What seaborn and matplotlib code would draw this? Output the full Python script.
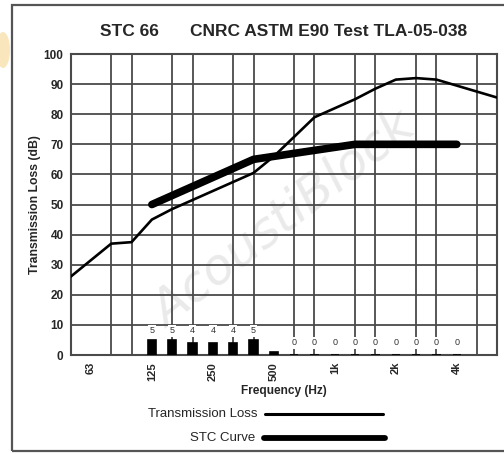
import numpy as np
import pandas as pd
import matplotlib
matplotlib.use("Agg")
import matplotlib.pyplot as plt
import seaborn as sns
from matplotlib.patches import Rectangle, Ellipse

# ---- data ----
bands = ["50", "63", "80", "100", "125", "160", "200", "250", "315", "400", "500",
         "630", "800", "1000", "1250", "1600", "2000", "2500", "3150", "4000", "5000", "6300"]
tl_values = [26, 31.5, 37, 37.5, 45, 48.5, 51.5, 54.5, 57.5, 60.5, 66,
             72.5, 79, 82, 85, 88.5, 91.5, 92, 91.5, 89.5, 87.5, 85.5]
stc_bands = ["125", "160", "200", "250", "315", "400", "500", "630", "800", "1000",
             "1250", "1600", "2000", "2500", "3150", "4000"]
stc_values = [50, 53, 56, 59, 62, 65, 66, 67, 68, 69, 70, 70, 70, 70, 70, 70]
deficiency = [5, 5, 4, 4, 4, 5, 1, 0, 0, 0, 0, 0, 0, 0, 0, 0]
deficiency_labels = ["5", "5", "4", "4", "4", "5", "", "0", "0", "0", "0", "0", "0", "0", "0", "0"]
tick_labels = ["63", "125", "250", "500", "1k", "2k", "4k"]
tick_bands = ["63", "125", "250", "500", "1000", "2000", "4000"]
yticks = [0, 10, 20, 30, 40, 50, 60, 70, 80, 90, 100]

pos = {b: i for i, b in enumerate(bands)}
tl_df = pd.DataFrame({"x": [pos[b] for b in bands], "y": tl_values})
stc_df = pd.DataFrame({"x": [pos[b] for b in stc_bands], "y": stc_values,
                       "d": deficiency, "lab": deficiency_labels})

sns.set_style("white")
plt.rcParams["font.family"] = ["Liberation Sans", "DejaVu Sans"]

fig = plt.figure(figsize=(5.04, 4.54), dpi=100)
ax = fig.add_axes([0.140, 0.218, 0.847, 0.663])

# grid
ax.set_xlim(0, len(bands) - 1)
ax.set_ylim(0, 100)
ax.set_xticks(range(len(bands)), minor=True)
ax.set_yticks(yticks)
ax.grid(True, which="minor", axis="x", color="#4a4a4a", lw=1.3, zorder=0)
ax.grid(True, which="major", axis="y", color="#4a4a4a", lw=1.3, zorder=0)
ax.set_axisbelow(True)
for s in ax.spines.values():
    s.set_color("#4a4a4a")
    s.set_linewidth(1.5)

# watermark
ax.text(10.5, 45, "AcoustiBlock", fontsize=36, color="#d0d0d0", alpha=0.45,
        rotation=38, ha="center", va="center", style="italic", zorder=0.3,
        family=["DejaVu Sans"])

# deficiency bars
ax.bar(stc_df["x"], stc_df["d"], width=0.42, color="black", edgecolor="black",
       linewidth=1.2, zorder=3)
for x, d, lab in zip(stc_df["x"], stc_df["d"], stc_df["lab"]):
    if lab:
        ypos = 8 if d > 0 else 4
        ax.text(x, ypos, lab, ha="center", va="center", fontsize=6.5, color="#333333",
                zorder=4, bbox=dict(boxstyle="square,pad=0.15", fc="white", ec="none"))

# curves
sns.lineplot(data=tl_df, x="x", y="y", ax=ax, color="black", lw=1.9, zorder=5)
sns.lineplot(data=stc_df, x="x", y="y", ax=ax, color="black", lw=5.5, zorder=6,
             solid_capstyle="round")

ax.set_xticks([pos[b] for b in tick_bands])
ax.set_xticklabels(tick_labels, rotation=90, fontsize=8, fontweight="bold")
ax.set_yticklabels([str(v) for v in yticks], fontsize=8.5, fontweight="bold")
ax.tick_params(axis="both", length=0)
ax.tick_params(axis="y", pad=5)
ax.tick_params(axis="x", pad=5)
ax.set_xlabel("Frequency (Hz)", fontsize=8.6, fontweight="bold", labelpad=3)
ax.set_ylabel("Transmission Loss (dB)", fontsize=8.8, fontweight="bold", labelpad=2)

# title
fig.text(129 / 504, 1 - 31 / 454, "STC 66", ha="center", va="center",
         fontsize=12.5, fontweight="bold")
fig.text(329 / 504, 1 - 31 / 454, "CNRC ASTM E90 Test TLA-05-038", ha="center",
         va="center", fontsize=12.5, fontweight="bold")

# legend
fig.text(257 / 504, 1 - 414 / 454, "Transmission Loss", ha="right", va="center", fontsize=9.5)
fig.text(255 / 504, 1 - 438 / 454, "STC Curve", ha="right", va="center", fontsize=9.5)
fig.add_artist(plt.Line2D([265 / 504, 383 / 504], [1 - 414 / 454] * 2, color="black", lw=2.2))
fig.add_artist(plt.Line2D([264 / 504, 385 / 504], [1 - 438 / 454] * 2, color="black", lw=4.2,
                          solid_capstyle="round"))

# frame
fig.add_artist(Rectangle((12 / 504, 1 - 451 / 454), 0.99, 446 / 454, transform=fig.transFigure,
                         fill=False, ec="#555555", lw=1.6))
fig.add_artist(Ellipse((3 / 504, 1 - 50 / 454), 14 / 504, 36 / 454, transform=fig.transFigure,
                       fc="#f2c25a", ec="none", alpha=0.4))

fig.savefig("out.png", dpi=100)
